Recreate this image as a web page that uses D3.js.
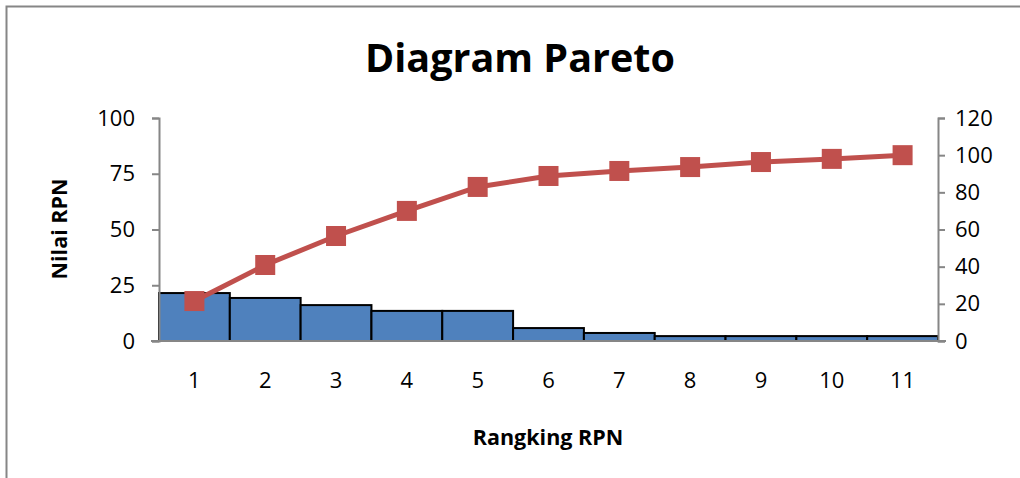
<!DOCTYPE html>
<html><head><meta charset="utf-8">
<script src="https://cdn.jsdelivr.net/npm/d3@7"></script>
<style>body{margin:0;background:#fff}svg{display:block}</style>
</head><body><svg id="c" width="1020" height="478"></svg>
<script>
const categories = ["1","2","3","4","5","6","7","8","9","10","11"];
const nilaiRPN = [21.5,19.3,16.1,13.5,13.5,5.8,3.6,2.2,2.2,2.2,2.2];
const kumulatif = [21.5,40.9,56.5,70,82.9,88.8,91.5,93.6,96.3,98,100];
const leftTicks = [0,25,50,75,100];
const rightTicks = [0,20,40,60,80,100,120];

const svg = d3.select("#c");
const font = "'Open Sans', 'Liberation Sans', sans-serif";
const L = 159, R = 938, T = 118, B = 341;

// outer frame
svg.append("rect").attr("x",6.5).attr("y",6.5).attr("width",1100).attr("height",600)
  .attr("fill","none").attr("stroke","#868686").attr("stroke-width",2);

const x = d3.scaleBand().domain(categories).range([L,R]).padding(0);
const yL = d3.scaleLinear().domain([0,100]).range([B,T]);
const yR = d3.scaleLinear().domain([0,120]).range([B,T]);

svg.append("text").attr("x",520).attr("y",72).attr("text-anchor","middle")
  .attr("font-family",font).attr("font-weight","bold").attr("font-size",39.5).text("Diagram Pareto");

// bars
svg.append("g").selectAll("rect").data(nilaiRPN).join("rect")
  .attr("x",(d,i)=>x(categories[i])).attr("width",x.bandwidth())
  .attr("y",d=>yL(d)).attr("height",d=>B-yL(d))
  .attr("fill","#4F81BD").attr("stroke","#000").attr("stroke-width",2);

// axes
const gl = svg.append("g").attr("transform",`translate(${L},0)`)
  .call(d3.axisLeft(yL).tickValues(leftTicks).tickSize(7).tickPadding(17));
const gr = svg.append("g").attr("transform",`translate(${R},0)`)
  .call(d3.axisRight(yR).tickValues(rightTicks).tickSize(7).tickPadding(10));
const gx = svg.append("g").attr("transform",`translate(0,${B})`)
  .call(d3.axisBottom(x).tickSize(0).tickPadding(31));
[gl,gr,gx].forEach(g=>{
  g.selectAll("path,line").attr("stroke","#868686").attr("stroke-width",2);
  g.selectAll("text").attr("font-family",font).attr("font-size",22).attr("fill","#000");
});
gx.select("path").attr("d",`M${L-8},0H${R+8}`);

// line
const line = d3.line().x((d,i)=>x(categories[i])+x.bandwidth()/2).y(d=>yR(d));
svg.append("path").datum(kumulatif).attr("d",line).attr("fill","none")
  .attr("stroke","#C0504D").attr("stroke-width",5);
svg.append("g").selectAll("rect").data(kumulatif).join("rect")
  .attr("x",(d,i)=>x(categories[i])+x.bandwidth()/2-10).attr("y",d=>yR(d)-10)
  .attr("width",20).attr("height",20).attr("fill","#C0504D");

// axis titles
svg.append("text").attr("transform","translate(67,229) rotate(-90)").attr("text-anchor","middle")
  .attr("font-family",font).attr("font-weight","bold").attr("font-size",21.5).text("Nilai RPN");
svg.append("text").attr("x",548).attr("y",445).attr("text-anchor","middle")
  .attr("font-family",font).attr("font-weight","bold").attr("font-size",21.5).text("Rangking RPN");
</script></body></html>
